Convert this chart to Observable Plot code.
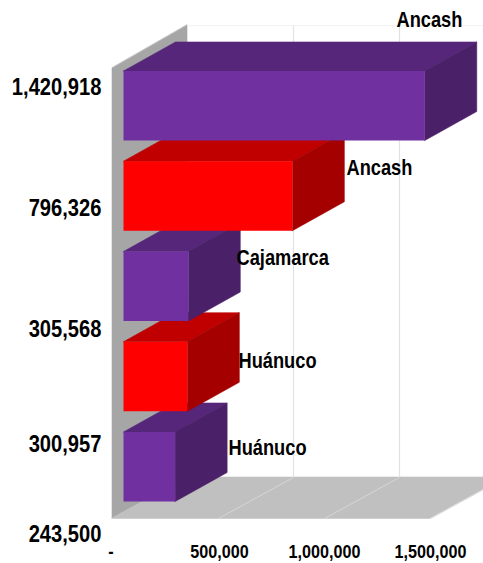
<!DOCTYPE html>
<html><head><meta charset="utf-8">
<script src="https://cdn.jsdelivr.net/npm/d3@7"></script>
<script src="https://cdn.jsdelivr.net/npm/@observablehq/plot@0.6"></script>
<style>html,body{margin:0;padding:0;background:#fff;overflow:hidden}svg{display:block}</style>
</head><body><div id="chart"></div>
<script>
const regions = ["Ancash", "Ancash", "Cajamarca", "Huánuco", "Huánuco"];
const values = [1420918, 796326, 305568, 300957, 243500];
const valueTexts = ["1,420,918", "796,326", "305,568", "300,957", "243,500"];
const seriesKinds = ["purple", "red", "purple", "red", "purple"];
const tickValues = [0, 500000, 1000000, 1500000];
const tickTexts = ["-", "500,000", "1,000,000", "1,500,000"];

// layout
const W = 483, H = 563;
const pxPerUnit = 106 / 500000, x0Px = 112;
const rowPx = 90.25, row0Px = 71;
const vx = px => (px - x0Px) / pxPerUnit;     // pixel -> value
const ry = px => (px - row0Px) / rowPx;       // pixel -> row
const barBase = vx(123.5), barH = ry(140.5) - ry(71);
const depthX = 52 / pxPerUnit, depthY = 29 / rowPx;
const wallDX = 75 / pxPerUnit;
const wallTop = ry(68), wallBackTop = ry(25), floorFront = ry(518), floorBack = ry(477);
const labelRows = [87, 208, 329, 444, 534].map(ry);
const nameX = [396, 346, 236, 238, 228].map(vx);
const nameRows = [19.5, 167.5, 257, 360, 447.5].map(ry);
const tickRow = ry(551);
const tickShift = [-1.5, 1, 0, 0].map(px => px / pxPerUnit);

const faces = {
  purple: {front: "#7030a0", top: "#55267a", side: "#4a2068"},
  red: {front: "#ff0000", top: "#c00000", side: "#a50000"}
};

function quad(a, b, c, d, fill) {
  return Plot.area([{x1:a[0],y1:a[1],x2:d[0],y2:d[1]},{x1:b[0],y1:b[1],x2:c[0],y2:c[1]}],
    {x1:"x1",y1:"y1",x2:"x2",y2:"y2",fill,stroke:fill,strokeWidth:0.6,curve:"linear"});
}

const marks = [];
// side wall and floor
marks.push(quad([0,wallTop],[0,floorFront],[wallDX,floorBack],[wallDX,wallBackTop],"#a6a6a6"));
marks.push(quad([0,floorFront],[wallDX,floorBack],[vx(505),floorBack],[vx(430),floorFront],"#c0c0c0"));
// gridlines
const backTicks = tickValues.slice(1);
marks.push(Plot.ruleX(backTicks,{x:d=>d+wallDX,y1:wallBackTop,y2:floorBack,stroke:"#e2e2e2",strokeWidth:1.2}));
marks.push(Plot.ruleY([wallBackTop],{x1:wallDX,x2:vx(483),stroke:"#f2f2f2",strokeWidth:1}));
backTicks.forEach(t => marks.push(Plot.link([t],{x1:d=>d,y1:floorFront,x2:d=>d+wallDX,y2:floorBack,stroke:"#d6d6d6",strokeWidth:1})));
marks.push(Plot.ruleY([floorFront],{x1:0,x2:vx(430),stroke:"#d0d0d0",strokeWidth:1}));

// bars: lower rows first so upper bars overlap them
for (let i = values.length - 1; i >= 0; i--) {
  const f = faces[seriesKinds[i]], end = barBase + values[i], t = i, b = i + barH;
  marks.push(quad([barBase,t],[barBase+depthX,t-depthY],[end+depthX,t-depthY],[end,t],f.top));
  marks.push(quad([end,t],[end+depthX,t-depthY],[end+depthX,b-depthY],[end,b],f.side));
  marks.push(Plot.rect([i],{x1:barBase,x2:end,y1:t,y2:b,fill:f.front}));
}

const textBase = {fontFamily:"Liberation Sans",fontWeight:"bold",fill:"#000"};
marks.push(Plot.text(valueTexts,{...textBase,x:vx(101),y:(d,i)=>labelRows[i],text:d=>d,textAnchor:"end",fontSize:24,className:"vlab"}));
marks.push(Plot.text(regions,{...textBase,x:(d,i)=>nameX[i],y:(d,i)=>nameRows[i],text:d=>d,textAnchor:"start",fontSize:22,className:"nlab"}));
marks.push(Plot.text(tickValues,{...textBase,x:(d,i)=>d+tickShift[i],y:tickRow,text:(d,i)=>tickTexts[i],textAnchor:"middle",fontSize:19,className:"tlab"}));

const plot = Plot.plot({
  width:W,height:H,marginTop:0,marginRight:0,marginBottom:0,marginLeft:0,
  style:{background:"#fff"},
  x:{type:"linear",domain:[vx(0),vx(W)],range:[0,W],axis:null},
  y:{type:"linear",domain:[ry(0),ry(H)],range:[0,H],axis:null},
  marks
});
document.getElementById("chart").appendChild(plot);

// condensed look of the original lettering
const squeeze = {vlab:0.84,nlab:0.83,tlab:0.85};
for (const [cls,k] of Object.entries(squeeze)) {
  plot.querySelectorAll("."+cls+" text").forEach(t => {
    t.setAttribute("transform",(t.getAttribute("transform")||"")+` scale(${k},1)`);
  });
}
</script></body></html>
